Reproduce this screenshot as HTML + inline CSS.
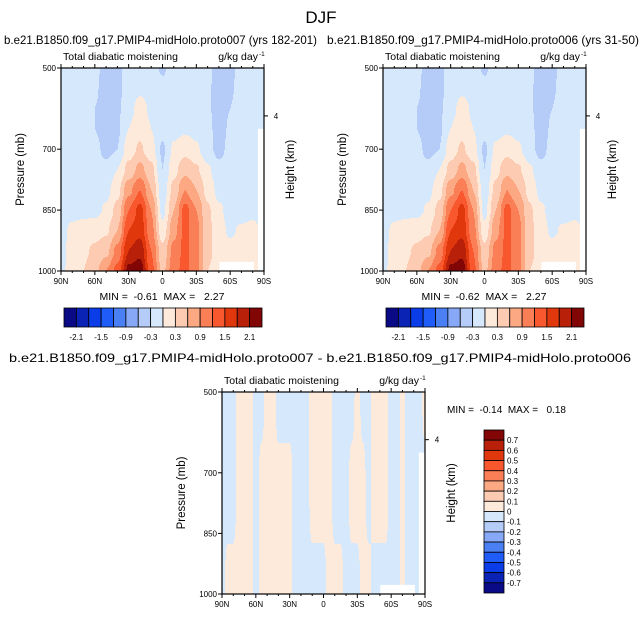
<!DOCTYPE html>
<html><head><meta charset="utf-8"><style>
body{margin:0;background:#fff}
svg{display:block;font-family:"Liberation Sans",sans-serif}
text{white-space:pre}
</style></head><body>
<svg id="chart" width="642" height="617" viewBox="0 0 642 617" xmlns="http://www.w3.org/2000/svg">
<text x="321" y="23" text-anchor="middle" font-size="17">DJF</text>
<g id="root"></g>
</svg>
<script>
// ----- data -----
const lats = ["90N","60N","30N","0","30S","60S","90S"];
const pressTicks = [500,700,850,1000];
const pressRows = [500,550,600,650,700,750,800,850,900,950,1000];
const cbLabelsTop = ["-2.1","-1.5","-0.9","-0.3","0.3","0.9","1.5","2.1"];
const cbLabelsDiff = ["0.7","0.6","0.5","0.4","0.3","0.2","0.1","0","-0.1","-0.2","-0.3","-0.4","-0.5","-0.6","-0.7"];
// columns: 90N..90S every 10 deg (19)
const fieldA = [
[-0.15,-0.15,-0.15,-0.2,-0.45,-0.4,-0.15,-0.1,-0.15,-0.35,-0.15,-0.15,-0.15,-0.2,-0.45,-0.4,-0.15,-0.15,-0.15],
[-0.15,-0.15,-0.15,-0.25,-0.45,-0.4,-0.15,-0.05,-0.1,-0.2,-0.15,-0.15,-0.15,-0.25,-0.45,-0.35,-0.15,-0.15,-0.15],
[-0.15,-0.15,-0.15,-0.3,-0.45,-0.35,-0.1,0.1,-0.05,-0.2,-0.15,-0.15,-0.15,-0.25,-0.45,-0.3,-0.15,-0.15,-0.15],
[-0.15,-0.15,-0.15,-0.3,-0.45,-0.35,0.0,0.2,0.0,-0.2,-0.1,-0.05,-0.1,-0.2,-0.45,-0.25,-0.15,-0.15,-0.15],
[-0.15,-0.15,-0.15,-0.2,-0.4,-0.3,0.15,0.35,0.1,-0.35,0.05,0.2,0.05,-0.2,-0.4,-0.2,-0.15,-0.15,-0.1],
[-0.15,-0.15,-0.15,-0.15,-0.2,0.0,0.4,0.7,0.4,-0.3,0.2,0.5,0.35,0.05,-0.2,-0.15,-0.15,-0.15,-0.1],
[-0.15,-0.15,-0.15,-0.15,-0.1,0.2,0.8,1.2,0.6,-0.2,0.4,0.9,0.6,0.2,-0.1,-0.15,-0.15,-0.15,-0.1],
[-0.15,-0.15,-0.1,-0.1,0.05,0.4,1.2,1.6,0.9,-0.1,0.6,1.3,0.9,0.35,0.05,-0.1,-0.15,-0.1,-0.1],
[-0.15,0.1,0.15,0.2,0.25,0.6,1.5,1.7,1.0,0.1,0.8,1.3,1.0,0.4,0.1,-0.05,0.05,0.1,-0.1],
[-0.15,0.2,0.25,0.35,0.5,1.0,1.8,2.0,1.2,0.4,1.0,1.3,1.0,0.4,0.15,0.1,0.15,0.2,-0.1],
[-0.1,0.2,0.3,0.5,0.9,1.3,2.2,2.3,1.3,0.5,1.1,1.3,1.0,0.3,0.1,0.1,0.15,0.2,-0.1]
];
const fieldB = fieldA;
// diff field: columns 90N..90S every 5 deg (37), rows 500, 750, 1000
const diffRows = [500,750,1000];
const fieldDiff = [
[-0.05,-0.05,-0.05,0.05,0.05,0.05,-0.05,-0.05,0.05,0.05,-0.05,-0.05,-0.05,-0.05,-0.05,-0.05,0.05,0.05,0.05,0.05,-0.05,-0.05,-0.05,-0.05,0.05,-0.05,-0.05,0.05,0.05,0.05,-0.05,-0.05,0.05,-0.05,-0.05,-0.05,0.05],
[-0.05,-0.05,-0.05,0.05,0.05,0.05,-0.05,0.05,0.05,0.05,0.05,0.05,0.05,-0.05,-0.05,-0.05,0.05,0.05,0.05,0.05,-0.05,-0.05,-0.05,0.05,0.05,0.05,-0.05,0.05,0.05,0.05,-0.05,-0.05,0.05,-0.05,-0.05,-0.05,-0.05],
[-0.05,0.05,0.05,0.05,0.05,0.05,-0.05,0.05,0.05,0.05,0.05,0.05,0.05,-0.05,-0.05,-0.05,-0.05,-0.05,-0.05,0.05,0.05,0.05,-0.05,-0.05,-0.05,0.05,0.05,-0.05,-0.05,-0.05,-0.05,-0.05,0.05,-0.05,-0.05,-0.05,-0.05]
];
const palette = ['#0a0a86','#0a23b4','#0a3ce8','#1f5cf8','#4a80f4','#87a8f6','#b5ccf9','#d6e9fc','#feeadb','#fdcbb1','#fca883','#fb7f56','#f9572e','#e0380c','#b8200a','#830606'];

const NS="http://www.w3.org/2000/svg";
const root=document.getElementById('root');
function mk(tag,attrs,parent){const e=document.createElementNS(NS,tag);for(const k in attrs)e.setAttribute(k,attrs[k]);(parent||root).appendChild(e);return e;}
function txt(s,attrs,parent){const e=mk('text',attrs,parent);e.textContent=s;return e;}

function interp(field,fx,fy){
  const nr=field.length,nc=field[0].length;
  const cx=fx*(nc-1),cy=fy*(nr-1);
  const i0=Math.min(Math.floor(cx),nc-2),j0=Math.min(Math.floor(cy),nr-2);
  let tx=cx-i0,ty=cy-j0;
  tx=tx*tx*(3-2*tx);ty=ty*ty*(3-2*ty);
  const a=field[j0][i0],b=field[j0][i0+1],c=field[j0+1][i0],d=field[j0+1][i0+1];
  return (a*(1-tx)+b*tx)*(1-ty)+(c*(1-tx)+d*tx)*ty;
}
function drawPanel(opt){
  const g=mk('g',{});
  
  
  const {x0,y0,w,h,field,lo,step}=opt;
  const xS=f=>x0+f*w, pY=p=>y0+(p-500)/500*h;
  const fieldG=mk('g',{},g);
  
  
  const cs=1;
  for(let y=0;y<h;y+=cs){
    let runStart=0,runCol=null;
    const fy=Math.min((y+cs/2)/h,1);
    for(let x=0;x<=w;x+=cs){
      let col=null;
      if(x<w){const v=interp(field,Math.min((x+cs/2)/w,1),fy);
        let k=Math.floor((v-lo)/step)+1;k=Math.max(0,Math.min(15,k));col=palette[k];}
      if(col!==runCol){
        if(runCol){mk('rect',{x:x0+runStart,y:y0+y,width:x-runStart+0.5,height:cs+0.5,fill:runCol},fieldG);}
        runStart=x;runCol=col;
      }
    }
  }
  // missing data
  mk('rect',{x:x0+w*0.78,y:y0+h*0.955,width:w*0.17,height:h*0.045,fill:'#fff'},g);
  mk('rect',{x:x0+w*0.97,y:y0+h*0.3,width:w*0.03,height:h*0.7,fill:'#fff'},g);
  // frame
  mk('rect',{x:x0,y:y0,width:w,height:h,fill:'none',stroke:'#000','stroke-width':1.2},g);
  for(let d=0;d<=18;d++){
    const x=xS(d/18),L=d%3===0?4:2;
    mk('line',{x1:x,x2:x,y1:y0+h,y2:y0+h+L,stroke:'#000','stroke-width':1},g);
    mk('line',{x1:x,x2:x,y1:y0,y2:y0-L,stroke:'#000','stroke-width':1},g);
  }
  lats.forEach((l,i)=>{const t=txt(l,{x:xS(i/6),y:y0+h+13,'text-anchor':'middle','font-size':8},g);
    });
  pressTicks.forEach(p=>{const y=pY(p);
    mk('line',{x1:x0-4,x2:x0,y1:y,y2:y,stroke:'#000','stroke-width':1},g);
    const t=txt(String(p),{x:x0-5,y:y+3,'text-anchor':'end','font-size':8},g);
    });
  const y4=y0+h*0.236;
  mk('line',{x1:x0+w,x2:x0+w+4,y1:y4,y2:y4,stroke:'#000','stroke-width':1},g);
  txt('4',{x:x0+w+12,y:y4+3,'text-anchor':'middle','font-size':8},g);
  const yl=txt('Pressure (mb)',{x:0,y:0,'font-size':11.5,'text-anchor':'middle',transform:`translate(${x0-37},${y0+h/2}) rotate(-90)`},g);
  
  const hl=txt('Height (km)',{x:0,y:0,'font-size':11.5,'text-anchor':'middle',transform:`translate(${x0+w+30},${y0+h/2}) rotate(-90)`},g);
  
  txt('Total diabatic moistening',{x:x0+2,y:y0-8,'font-size':10.5},g);
  txt('g/kg day',{x:x0+w-6,y:y0-8,'font-size':10.5,'text-anchor':'end'},g);
  txt('-1',{x:x0+w-5,y:y0-12,'font-size':6.5},g);
  txt(opt.title,{x:opt.tx,y:opt.ty,'font-size':12,textLength:opt.tw,lengthAdjust:'spacingAndGlyphs'},g);
  return g;
}
function hColorbar(x0,y0,w,h,name){
  const g=mk('g',{});
  
  
  const bw=w/16;
  palette.forEach((c,i)=>mk('rect',{x:x0+i*bw,y:y0,width:bw,height:h,fill:c,stroke:'#000','stroke-width':0.8},g));
  cbLabelsTop.forEach((l,i)=>txt(l,{x:x0+(2*i+1)*bw,y:y0+h+13,'text-anchor':'middle','font-size':8},g));
}
drawPanel({name:'panel-proto007',x0:61,y0:68,w:203,h:203,field:fieldA,lo:-2.1,step:0.3,
  title:'b.e21.B1850.f09_g17.PMIP4-midHolo.proto007 (yrs 182-201)',tx:4,ty:44,tw:313});
txt('MIN =  -0.61  MAX =   2.27',{x:162,y:300,'text-anchor':'middle','font-size':10.5});
hColorbar(64,308,198,19,'colorbar-proto007');
drawPanel({name:'panel-proto006',x0:383,y0:68,w:203,h:203,field:fieldB,lo:-2.1,step:0.3,
  title:'b.e21.B1850.f09_g17.PMIP4-midHolo.proto006 (yrs 31-50)',tx:327,ty:44,tw:312});
txt('MIN =  -0.62  MAX =   2.27',{x:484,y:300,'text-anchor':'middle','font-size':10.5});
hColorbar(386,308,198,19,'colorbar-proto006');
drawPanel({name:'panel-difference',x0:222,y0:392,w:203,h:202,field:fieldDiff,lo:-0.7,step:0.1,
  title:'b.e21.B1850.f09_g17.PMIP4-midHolo.proto007 - b.e21.B1850.f09_g17.PMIP4-midHolo.proto006',tx:9,ty:362,tw:622});
txt('MIN =  -0.14  MAX =   0.18',{x:447,y:413,'font-size':10});
(function(){
  const g=mk('g',{});
  
  
  const x0=484,y0=430,w=20,h=163,bh=h/16;
  for(let i=0;i<16;i++)mk('rect',{x:x0,y:y0+i*bh,width:w,height:bh,fill:palette[15-i],stroke:'#000','stroke-width':0.8},g);
  cbLabelsDiff.forEach((l,i)=>txt(l,{x:x0+w+3,y:y0+(i+1)*bh+3,'font-size':8},g));
})();
</script>
</body></html>
